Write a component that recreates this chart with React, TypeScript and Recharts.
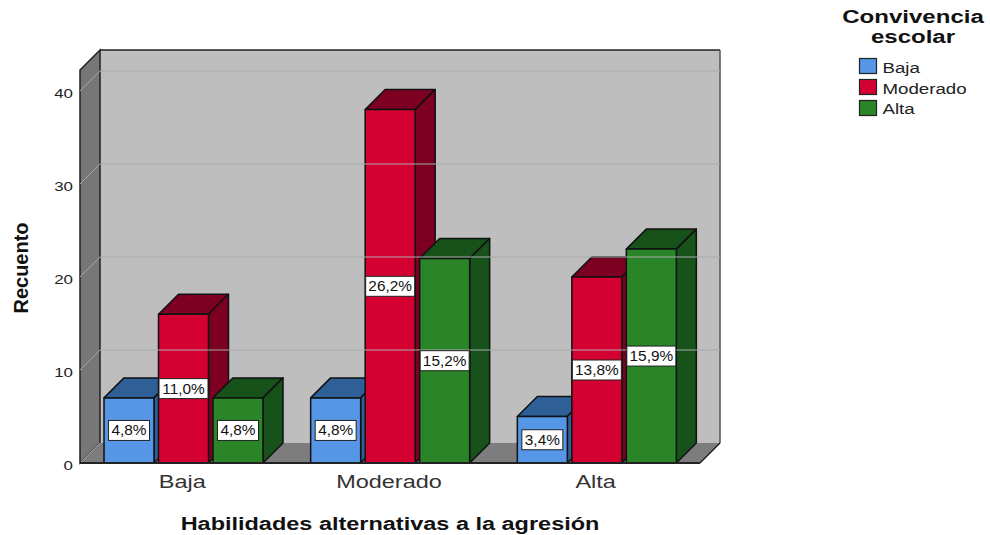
import React from "react";
import {
  Bar,
  BarChart,
  LabelList,
  Legend,
  ReferenceArea,
  ReferenceLine,
  XAxis,
  YAxis,
} from "recharts";

const categories = ["Baja", "Moderado", "Alta"];
const bajaValues = [7, 7, 5];
const moderadoValues = [16, 38, 20];
const altaValues = [7, 22, 23];
const bajaLabels = ["4,8%", "4,8%", "3,4%"];
const moderadoLabels = ["11,0%", "26,2%", "13,8%"];
const altaLabels = ["4,8%", "15,2%", "15,9%"];
const yTicks = [0, 10, 20, 30, 40];
const yMax = 42.26;

const data = categories.map((name, i) => ({
  name,
  baja: bajaValues[i],
  moderado: moderadoValues[i],
  alta: altaValues[i],
  bajaLabel: bajaLabels[i],
  moderadoLabel: moderadoLabels[i],
  altaLabel: altaLabels[i],
}));

const FONT = '"Liberation Sans", Arial, sans-serif';
const DEPTH = 20;

// stretched text, the original has wide Arial
function Wide({ x, y, sx = 1.2, size, anchor = "middle", weight = 400, fill = "#222", rotate = 0, children }: any) {
  return (
    <text
      transform={`translate(${x} ${y}) rotate(${rotate}) scale(${sx} 1)`}
      textAnchor={anchor}
      fontFamily={FONT}
      fontSize={size}
      fontWeight={weight}
      fill={fill}
    >
      {children}
    </text>
  );
}

function Walls({ x, y, width, height }: any) {
  const d = DEPTH;
  const bottom = y + height;
  return (
    <g>
      <rect x={x + d} y={y - d} width={width} height={height} fill="#bebebe" stroke="none" />
      <polygon
        points={`${x},${y} ${x + d},${y - d} ${x + d},${bottom - d} ${x},${bottom}`}
        fill="#777777"
        stroke="#222"
        strokeWidth={1.5}
      />
      <polygon
        points={`${x},${bottom} ${x + d},${bottom - d} ${x + width + d},${bottom - d} ${x + width},${bottom}`}
        fill="#7d7d7d"
      />
      <line x1={x} y1={bottom} x2={x + d} y2={bottom - d} stroke="#a5a5a5" strokeWidth={1} />
      <line x1={x + d} y1={y - d} x2={x + width + d} y2={y - d} stroke="#222" strokeWidth={1.5} />
      <line x1={x + width + d} y1={y - d} x2={x + width + d} y2={bottom - d} stroke="#555" strokeWidth={1.5} />
      <line x1={x + width} y1={bottom} x2={x + width + d} y2={bottom - d} stroke="#222" strokeWidth={1.5} />
    </g>
  );
}

function GridLine({ x1, y1, x2, y2 }: any) {
  const d = DEPTH;
  return (
    <g>
      <line x1={x1} y1={y1} x2={x1 + d} y2={y1 - d} stroke="#a5a5a5" strokeWidth={1} />
      <line x1={x1 + d} y1={y1 - d} x2={x2 + d} y2={y2 - d} stroke="#aaaaaa" strokeWidth={1.2} />
    </g>
  );
}

function Box3D({ x, y, width, height, fill, top, side }: any) {
  const d = DEPTH;
  const r = x + width;
  const b = y + height;
  return (
    <g stroke="#111" strokeWidth={1.5} strokeLinejoin="round">
      <polygon points={`${x},${y} ${x + d},${y - d} ${r + d},${y - d} ${r},${y}`} fill={top} />
      <polygon points={`${r},${y} ${r + d},${y - d} ${r + d},${b - d} ${r},${b}`} fill={side} />
      <rect x={x} y={y} width={width} height={height} fill={fill} />
    </g>
  );
}

function PercentTag({ x, y, width, height, value }: any) {
  const cx = x + width / 2;
  const cy = y + height / 2;
  const w = String(value).length > 4 ? 49 : 41;
  return (
    <g>
      <rect x={cx - w / 2} y={cy - 10} width={w} height={20} fill="#fff" stroke="#222" strokeWidth={1} />
      <Wide x={cx} y={cy + 5} sx={1.1} size={14} fill="#111">
        {value}
      </Wide>
    </g>
  );
}

function XTick({ x, y, payload }: any) {
  return (
    <Wide x={x - 1} y={y + 17} sx={1.27} size={18.5} fill="#333">
      {payload.value}
    </Wide>
  );
}

function YTick({ x, y, payload }: any) {
  return (
    <Wide x={x} y={y + 6.5} sx={1.25} size={13.5} anchor="end" fill="#222">
      {payload.value}
    </Wide>
  );
}

function LegendBox({ payload }: any) {
  return (
    <svg width={990} height={130} style={{ display: "block", overflow: "visible" }}>
      <Wide x={913} y={23} sx={1.3} size={18.5} weight={700} fill="#111">
        Convivencia
      </Wide>
      <Wide x={913} y={43} sx={1.3} size={18.5} weight={700} fill="#111">
        escolar
      </Wide>
      {(payload || []).map((item: any, i: number) => (
        <g key={item.value}>
          <rect x={859.5} y={58.5 + i * 21} width={17} height={15} fill={item.color} stroke="#222" strokeWidth={1.2} />
          <Wide x={882.5} y={73 + i * 20.5} sx={1.29} size={14.5} anchor="start" fill="#222">
            {item.value}
          </Wide>
        </g>
      ))}
    </svg>
  );
}

export default function App() {
  return (
    <div style={{ position: "absolute", left: 0, top: 0, width: 990, height: 535, background: "#fff" }}>
      <BarChart
        width={990}
        height={535}
        data={data}
        margin={{ top: 70, right: 290, bottom: 0, left: 0 }}
        barSize={50}
        barGap={4.5}
      >
        <XAxis
          dataKey="name"
          axisLine={{ stroke: "#222", strokeWidth: 2 }}
          tickLine={false}
          height={72}
          tick={<XTick />}
          interval={0}
          label={{
            content: () => (
              <Wide x={390} y={530} sx={1.27} size={18.5} weight={700} fill="#111">
                Habilidades alternativas a la agresión
              </Wide>
            ),
          }}
        />
        <YAxis
          type="number"
          domain={[0, yMax]}
          ticks={yTicks}
          width={80}
          axisLine={false}
          tickLine={false}
          tickMargin={1}
          tick={<YTick />}
          label={{
            content: () => (
              <Wide x={28} y={268} sx={1} size={20} weight={700} fill="#111" rotate={-90}>
                Recuento
              </Wide>
            ),
          }}
        />
        <ReferenceArea y1={0} y2={yMax} shape={<Walls />} fill="none" stroke="none" />
        {yTicks.slice(1).map((t) => (
          <ReferenceLine key={t} y={t} shape={<GridLine />} />
        ))}
        <Legend
          content={<LegendBox />}
          itemSorter={null}
          layout="vertical"
          align="right"
          verticalAlign="top"
          width={1}
          wrapperStyle={{ position: "absolute", left: 0, top: 0, width: 1, height: 1, pointerEvents: "none", overflow: "visible" }}
        />
        <Bar
          dataKey="baja"
          name="Baja"
          fill="#5597e6"
          isAnimationActive={false}
          shape={<Box3D top="#2f5f97" side="#2f5f97" />}
        >
          <LabelList dataKey="bajaLabel" content={<PercentTag />} />
        </Bar>
        <Bar
          dataKey="moderado"
          name="Moderado"
          fill="#d50032"
          isAnimationActive={false}
          shape={<Box3D top="#7d0022" side="#7d0022" />}
        >
          <LabelList dataKey="moderadoLabel" content={<PercentTag />} />
        </Bar>
        <Bar
          dataKey="alta"
          name="Alta"
          fill="#2a8428"
          isAnimationActive={false}
          shape={<Box3D top="#17521a" side="#17521a" />}
        >
          <LabelList dataKey="altaLabel" content={<PercentTag />} />
        </Bar>
      </BarChart>
    </div>
  );
}
